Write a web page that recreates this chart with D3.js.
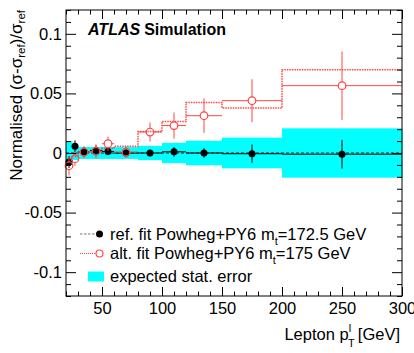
<!DOCTYPE html>
<html>
<head>
<meta charset="utf-8">
<script src="https://cdnjs.cloudflare.com/ajax/libs/d3/7.8.5/d3.min.js"></script>
<style>
  body { margin: 0; background: #fff; }
  svg { font-family: "Liberation Sans", Arial, Helvetica, sans-serif; }
</style>
</head>
<body>
<div id="SvgWrapper"></div>
<script>
// bin edges of lepton pT [GeV]
var binEdges = [20, 25, 30, 40, 50, 60, 80, 100, 120, 150, 200, 300];

// ref. fit (filled) and alt. fit (open) points, per bin
var refVal = [-0.0076, 0.0056, 0.0008, 0.0022, 0.0013, 0.0, 0.0, 0.001, 0.0, -0.0006, -0.001];
var refErr = [0.005, 0.005, 0.004, 0.004, 0.003, 0.003, 0.003, 0.004, 0.004, 0.0077, 0.012];
var altVal = [-0.0107, -0.0048, 0.0008, 0.0013, 0.0078, 0.0008, 0.0176, 0.023, 0.0313, 0.0439, 0.0565];
var altErr = [0.008, 0.006, 0.005, 0.006, 0.006, 0.005, 0.008, 0.011, 0.0145, 0.018, 0.0287];

// fit histograms (step lines)
var refFit = [0.0, 0.0, 0.0, 0.0, 0.0, 0.0, 0.0, 0.0, 0.0, 0.0, 0.0];
var altFit = [-0.006, -0.003, 0.001, 0.001, 0.004, 0.0056, 0.018, 0.0265, 0.0424, 0.0377, 0.0699];

// expected stat. error band (half width)
var bandErr = [0.0098, 0.006, 0.005, 0.005, 0.005, 0.005, 0.006, 0.0085, 0.0103, 0.0129, 0.0207];

var xMajor = [50, 100, 150, 200, 250, 300];
var yMajor = [-0.1, -0.05, 0, 0.05, 0.1];
var yLabels = ['-0.1', '-0.05', '0', '0.05', '0.1'];

var legendItems = [
  { kind: 'ref', label: 'ref. fit Powheg+PY6 m', sub: 't', rest: '=172.5 GeV' },
  { kind: 'alt', label: 'alt. fit Powheg+PY6 m', sub: 't', rest: '=175 GeV' },
  { kind: 'band', label: 'expected stat. error', sub: '', rest: '' }
];

var W = 414, H = 353;
var padL = 66, padR = 402, padT = 10, padB = 296;
var red = '#ff4646';
var fs = 16.5;

var svg = d3.select('#SvgWrapper')
  .append('svg')
  .attr('width', W)
  .attr('height', H);

var x = d3.scaleLinear().domain([20, 300]).range([padL, padR]);
var y = d3.scaleLinear().domain([-0.12, 0.12]).range([padB, padT]);

var bins = d3.range(refVal.length).map(function(i) {
  return { lo: binEdges[i], hi: binEdges[i + 1], c: (binEdges[i] + binEdges[i + 1]) / 2, i: i };
});

// band
svg.append('g').selectAll('rect')
  .data(bins)
  .enter()
  .append('rect')
  .attr('x', function(d) { return x(d.lo); })
  .attr('width', function(d) { return x(d.hi) - x(d.lo) + 0.5; })
  .attr('y', function(d) { return y(bandErr[d.i]); })
  .attr('height', function(d) { return y(-bandErr[d.i]) - y(bandErr[d.i]); })
  .attr('fill', '#00ffff');

function stepLine(vals) {
  var pts = [];
  bins.forEach(function(b) {
    pts.push([x(b.lo), y(vals[b.i])]);
    pts.push([x(b.hi), y(vals[b.i])]);
  });
  return d3.line()(pts);
}

// ref fit (dashed)
svg.append('path')
  .attr('d', stepLine(refFit))
  .attr('fill', 'none')
  .attr('stroke', '#222')
  .attr('stroke-width', 1)
  .attr('stroke-dasharray', '3,2');

// alt fit (dotted)
svg.append('path')
  .attr('d', stepLine(altFit))
  .attr('fill', 'none')
  .attr('stroke', red)
  .attr('stroke-width', 1.5)
  .attr('stroke-dasharray', '1.5,1');

var r = 3.5;

// ref error bars
var refG = svg.append('g');
refG.selectAll('.hbar')
  .data(bins)
  .enter()
  .append('line')
  .attr('x1', function(d) { return x(d.lo); })
  .attr('x2', function(d) { return x(d.hi); })
  .attr('y1', function(d) { return y(refVal[d.i]); })
  .attr('y2', function(d) { return y(refVal[d.i]); })
  .attr('stroke', '#000')
  .attr('stroke-width', 1);
refG.selectAll('.vbar')
  .data(bins)
  .enter()
  .append('line')
  .attr('x1', function(d) { return x(d.c); })
  .attr('x2', function(d) { return x(d.c); })
  .attr('y1', function(d) { return y(refVal[d.i] + refErr[d.i]); })
  .attr('y2', function(d) { return y(refVal[d.i] - refErr[d.i]); })
  .attr('stroke', '#000')
  .attr('stroke-width', 1);
refG.selectAll('circle')
  .data(bins)
  .enter()
  .append('circle')
  .attr('cx', function(d) { return x(d.c); })
  .attr('cy', function(d) { return y(refVal[d.i]); })
  .attr('r', r)
  .attr('fill', '#000');

// alt error bars, with a gap round the open marker
var altG = svg.append('g');
bins.forEach(function(d) {
  var cx = x(d.c), cy = y(altVal[d.i]);
  var segs = [
    [x(d.lo), cy, cx - r, cy],
    [cx + r, cy, x(d.hi), cy],
    [cx, y(altVal[d.i] + altErr[d.i]), cx, cy - r],
    [cx, cy + r, cx, y(altVal[d.i] - altErr[d.i])]
  ];
  segs.forEach(function(s) {
    if (Math.abs(s[2] - s[0]) + Math.abs(s[3] - s[1]) < 0.5) return;
    altG.append('line')
      .attr('x1', s[0]).attr('y1', s[1])
      .attr('x2', s[2]).attr('y2', s[3])
      .attr('stroke', red)
      .attr('stroke-width', 1);
  });
});
altG.selectAll('circle')
  .data(bins)
  .enter()
  .append('circle')
  .attr('cx', function(d) { return x(d.c); })
  .attr('cy', function(d) { return y(altVal[d.i]); })
  .attr('r', r + 0.3)
  .attr('fill', 'none')
  .attr('stroke', red)
  .attr('stroke-width', 1.2);

// axes (ROOT style: ticks inward on all four sides)
var xMinor = d3.range(20, 301, 10).filter(function(v) { return v % 50 !== 0; });
var yMinor = d3.range(-12, 13).map(function(v) { return v / 100; }).filter(function(v) { return Math.round(v * 100) % 5 !== 0; });

function addAxis(axis, tx, ty) {
  var g = svg.append('g')
    .attr('transform', 'translate(' + tx + ',' + ty + ')')
    .call(axis);
  g.select('.domain').remove();
  g.selectAll('line').attr('stroke', '#000');
  return g;
}

addAxis(d3.axisBottom(x).tickValues(xMajor).tickSize(-9).tickPadding(6).tickFormat(d3.format('d')), 0, padB);
addAxis(d3.axisBottom(x).tickValues(xMinor).tickSize(-4.5).tickFormat(''), 0, padB);
addAxis(d3.axisTop(x).tickValues(xMajor).tickSize(-9).tickFormat(''), 0, padT);
addAxis(d3.axisTop(x).tickValues(xMinor).tickSize(-4.5).tickFormat(''), 0, padT);

addAxis(d3.axisLeft(y).tickValues(yMajor).tickSize(-10).tickPadding(4)
  .tickFormat(function(d, i) { return yLabels[i]; }), padL, 0);
addAxis(d3.axisLeft(y).tickValues(yMinor).tickSize(-5).tickFormat(''), padL, 0);
addAxis(d3.axisRight(y).tickValues(yMajor).tickSize(-10).tickFormat(''), padR, 0);
addAxis(d3.axisRight(y).tickValues(yMinor).tickSize(-5).tickFormat(''), padR, 0);

svg.selectAll('.tick text')
  .attr('font-size', fs)
  .attr('font-family', '"Liberation Sans", Arial, sans-serif')
  .attr('fill', '#000');

// frame
svg.append('rect')
  .attr('x', padL).attr('y', padT)
  .attr('width', padR - padL).attr('height', padB - padT)
  .attr('fill', 'none')
  .attr('stroke', '#000')
  .attr('stroke-width', 1);

// ATLAS label
var atlas = svg.append('text')
  .attr('x', 88)
  .attr('y', 35)
  .attr('font-size', 16)
  .attr('font-weight', 'bold');
atlas.append('tspan').attr('font-style', 'italic').text('ATLAS');
atlas.append('tspan').attr('dx', 4).text('Simulation');

// legend
var legendY = [234, 253.5, 276.5];
var leg = svg.append('g');
legendItems.forEach(function(item, i) {
  var ly = legendY[i];
  if (item.kind === 'ref') {
    leg.append('line').attr('x1', 80).attr('x2', 96).attr('y1', ly).attr('y2', ly)
      .attr('stroke', '#777').attr('stroke-dasharray', '2.5,1.5');
    leg.append('circle').attr('cx', 99.5).attr('cy', ly).attr('r', r).attr('fill', '#000');
  } else if (item.kind === 'alt') {
    leg.append('line').attr('x1', 80).attr('x2', 96).attr('y1', ly).attr('y2', ly)
      .attr('stroke', red).attr('stroke-width', 1.2).attr('stroke-dasharray', '1,1');
    leg.append('circle').attr('cx', 99.5).attr('cy', ly).attr('r', r)
      .attr('fill', 'none').attr('stroke', red).attr('stroke-width', 1.2);
  } else {
    leg.append('rect').attr('x', 88).attr('y', ly - 5).attr('width', 16).attr('height', 10)
      .attr('fill', '#00ffff');
  }
  var t = leg.append('text')
    .attr('x', 110)
    .attr('y', ly + 5.5)
    .attr('font-size', fs);
  t.append('tspan').text(item.label);
  if (item.sub) {
    t.append('tspan').attr('font-size', 11).attr('dy', 5).text(item.sub);
    t.append('tspan').attr('dy', -5).text(item.rest);
  }
});

// y title
var yt = svg.append('text')
  .attr('transform', 'translate(22,10) rotate(-90)')
  .attr('text-anchor', 'end')
  .attr('font-size', 17);
yt.append('tspan').text('Normalised (\u03c3-\u03c3');
yt.append('tspan').attr('font-size', 11.5).attr('dy', 3).text('ref');
yt.append('tspan').attr('dy', -3).text(')/\u03c3');
yt.append('tspan').attr('font-size', 11.5).attr('dy', 3).text('ref');

// x title
var xt = svg.append('text')
  .attr('x', 400)
  .attr('y', 339.5)
  .attr('text-anchor', 'end')
  .attr('font-size', fs);
xt.append('tspan').text('Lepton p');
xt.append('tspan').attr('font-size', 11).attr('dy', -8).text('l');
xt.append('tspan').attr('font-size', 11).attr('dx', -3).attr('dy', 15).text('T');
xt.append('tspan').attr('dy', -7).attr('dx', 3).text('[GeV]');
</script>
</body>
</html>
